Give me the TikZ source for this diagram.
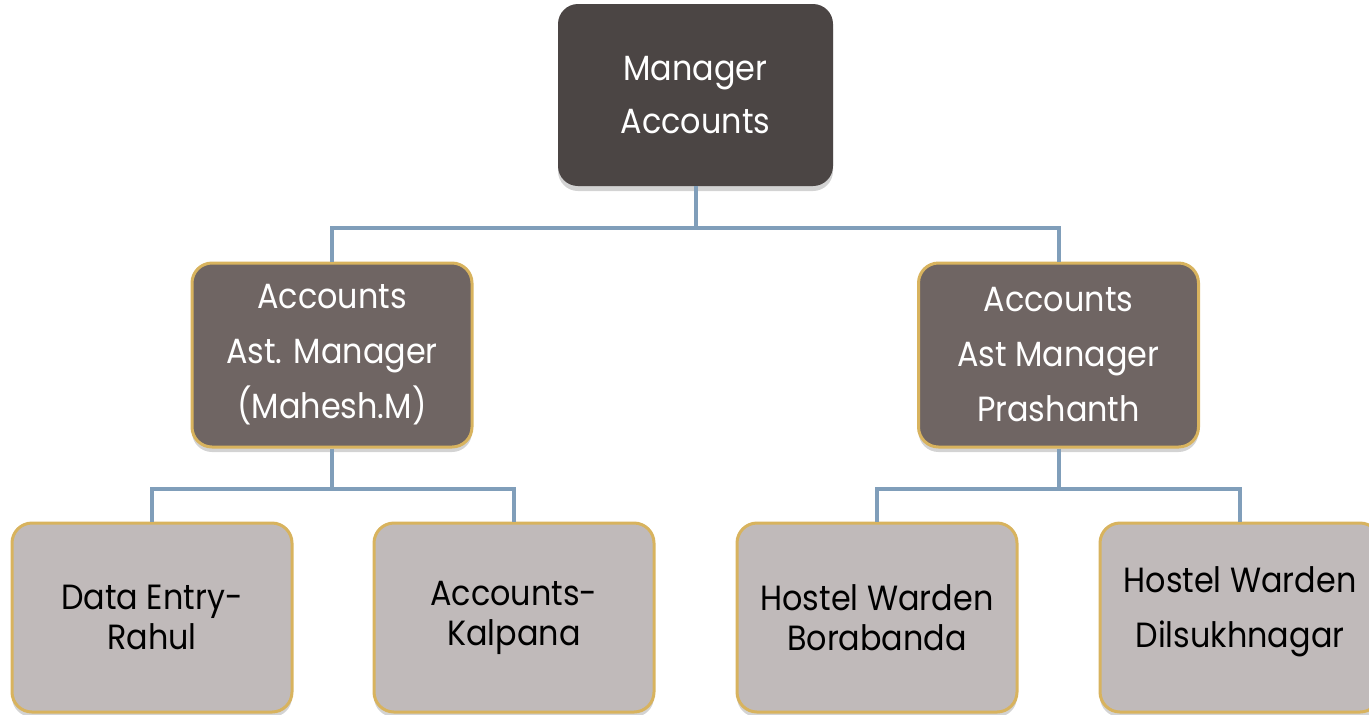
\documentclass[tikz,border=0pt]{standalone}
\usepackage{fontspec}
\setmainfont{Poppins}[FakeStretch=0.91]
\usepackage{tikz}
\usetikzlibrary{shadows}

\definecolor{boss}{HTML}{4B4544}
\definecolor{ast}{HTML}{6F6563}
\definecolor{staff}{HTML}{C0BABA}
\definecolor{rim}{HTML}{D8B35E}
\definecolor{wire}{HTML}{809EBA}

\begin{document}
\begin{tikzpicture}[x=0.5pt, y=-0.5pt]
		\tikzstyle{box} = [rounded corners=10pt, align=center, inner sep=0pt,
			drop shadow={shadow xshift=0pt, shadow yshift=-2.5pt, opacity=.35}]
		\tikzstyle{head} = [box, fill=boss, text=white, minimum width=137.5pt, minimum height=91pt,
			font=\fontsize{17.5}{26.5}\selectfont]
		\tikzstyle{mid} = [box, fill=ast, draw=rim, line width=1.5pt, text=white,
			minimum width=140pt, minimum height=92pt, font=\fontsize{17.5}{27.5}\selectfont]
		\tikzstyle{low} = [box, fill=staff, draw=rim, line width=1.5pt, text=black,
			minimum width=140pt, minimum height=94.5pt, font=\fontsize{17.5}{20}\selectfont]
		\tikzstyle{link} = [draw=wire, line width=2pt]
		\useasboundingbox (0,0) rectangle (1369,714);
		\node[head] (mgr) at (695.5, 95) {Manager\\Accounts};
		\node[mid] (mahesh) at (332, 355) {Accounts\\Ast. Manager\\(Mahesh.M)};
		\node[mid] (prash) at (1058.5, 355) {Accounts\\Ast Manager\\Prashanth};
		\node[low] (rahul) at (152, 617.5) {Data Entry-\\Rahul};
		\node[low] (kalpana) at (514, 617.5) {Accounts-\\Kalpana};
		\node[low] (bora) at (877, 617.5) {Hostel Warden\\Borabanda};
		\node[low, font=\fontsize{17.5}{27.5}\selectfont, text depth=10pt] (dilsukh) at (1240, 617.5) {Hostel Warden\\Dilsukhnagar};
		\foreach \from/\to in {mgr/mahesh, mgr/prash}
		\draw [link] (\from.south) -- ++(0,42) -| (\to.north);
		\foreach \from/\to in {mahesh/rahul, mahesh/kalpana, prash/bora, prash/dilsukh}
		\draw [link] (\from.south) -- ++(0,40) -| (\to.north);
	\end{tikzpicture}
\end{document}
